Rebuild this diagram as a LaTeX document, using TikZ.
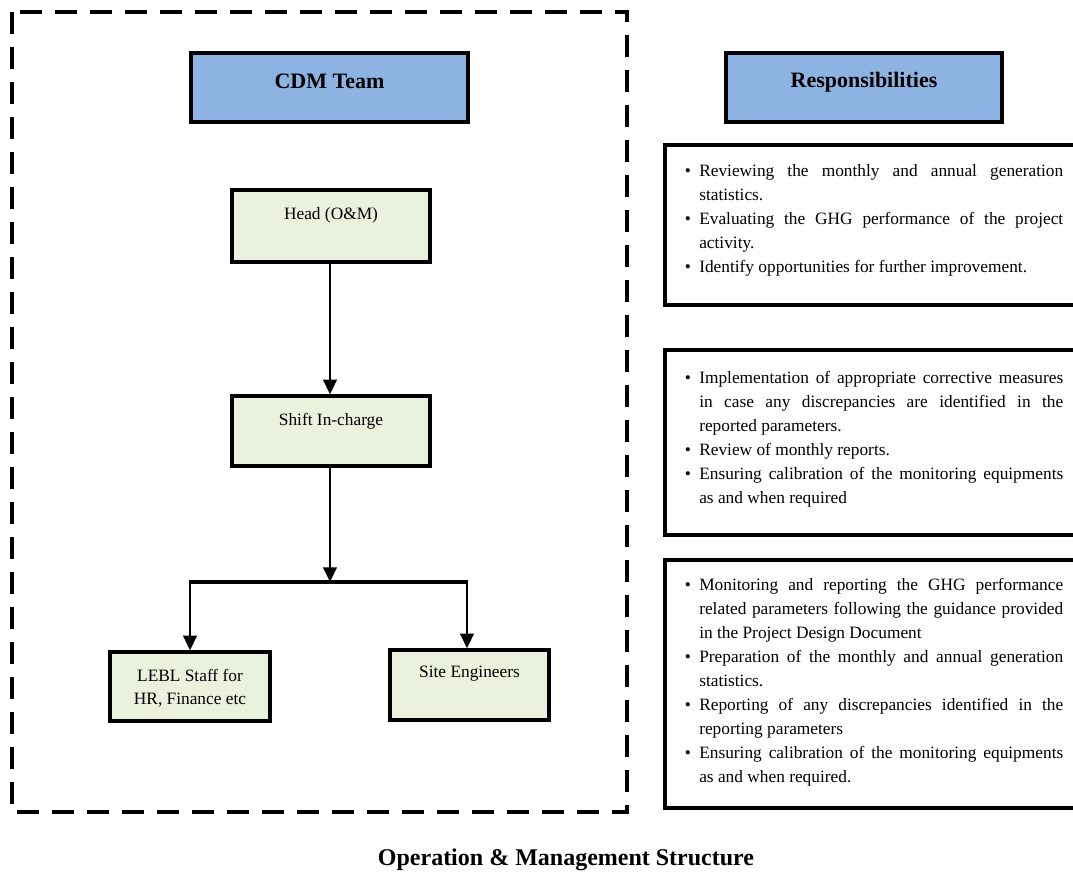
\documentclass[tikz,border=0pt]{standalone}
\usepackage{fontspec}
\setmainfont{Liberation Serif}
\usetikzlibrary{arrows.meta}
\definecolor{hdrblue}{HTML}{8DB3E2}
\definecolor{boxgreen}{HTML}{EAF1DD}
\newcommand{\bul}[1]{\par\hangindent=11.25pt\hangafter=1\noindent\makebox[11.25pt][l]{\hspace{0.5pt}{\fontsize{13}{13}\selectfont\textbullet}}#1\par}
\begin{document}
\begin{tikzpicture}[x=0.75pt,y=-0.75pt,
  hdr/.style={draw=black,line width=3pt,fill=hdrblue,minimum width=207.5pt,minimum height=51.75pt,inner sep=0pt},
  hdrtxt/.style={font=\fontsize{16.5}{18}\selectfont\bfseries,inner sep=0pt},
  gbox/.style={draw=black,line width=2.5pt,fill=boxgreen,inner sep=0pt},
  gtxt/.style={font=\fontsize{13}{17.5}\selectfont,inner sep=0pt,align=center},
  rbox/.style={draw=black,line width=2.4pt},
  rtxt/.style={anchor=north west,inner sep=0pt,text width=284.25pt,align=justify,font=\fontsize{13}{18}\selectfont},
  conn/.style={line width=2.1pt},
  arr/.style={conn,-{Triangle[length=11pt,width=10pt]}},
  frame/.style={line width=3pt,dash pattern=on 16.5pt off 9.75pt}]
\useasboundingbox (0,0) rectangle (1073,875);
% dashed frame
\draw[frame] (12,12) rectangle (627,812);
% headers
\node[hdr] (cdm) at (329.5,87.5) {};
\node[hdrtxt] (cdmt) at (329.5,81) {CDM Team};
\node[hdr] (resp) at (864,87.5) {};
\node[hdrtxt] (respt) at (864,82) {Responsibilities};
% green boxes
\node[gbox,minimum width=148.5pt,minimum height=54pt] (head) at (331,226) {};
\node[gtxt] (headt) at (331,215) {Head (O\&M)};
\node[gbox,minimum width=148.5pt,minimum height=52.5pt] (shift) at (331,431) {};
\node[gtxt] (shiftt) at (331,421) {Shift In-charge};
\node[gbox,minimum width=120pt,minimum height=51.75pt] (lebl) at (190,686.5) {};
\node[gtxt] (leblt) at (190,688) {LEBL Staff for\\HR, Finance etc};
\node[gbox,minimum width=119.25pt,minimum height=52.5pt] (site) at (469.5,685) {};
\node[gtxt] (sitet) at (469.5,674) {Site Engineers};
% connectors
\coordinate (jc) at (330,582);
\coordinate (jl) at (190,582);
\coordinate (jr) at (467,582);
\draw[arr] (head.south -| 330,0) -- (shift.north -| 330,0);
\draw[arr] (shift.south -| 330,0) -- (jc);
\draw[line width=2.8pt] ([xshift=-1pt]jl) -- ([xshift=1pt]jr);
\draw[arr] (jl) -- (lebl.north);
\draw[arr] (jr) -- (jr |- site.north);
% responsibility boxes
\draw[rbox] (665,145) rectangle (1085,305);
\node[rtxt] (r1) at (684,152) {%
\bul{Reviewing the monthly and annual generation\linebreak statistics.}
\bul{Evaluating the GHG performance of the project\linebreak activity.}
\bul{Identify opportunities for further improvement.}};
\draw[rbox] (665,350) rectangle (1085,535);
\node[rtxt] (r2) at (684,359) {%
\bul{Implementation of appropriate corrective measures\linebreak in case any discrepancies are identified in the\linebreak reported parameters.}
\bul{Review of monthly reports.}
\bul{Ensuring calibration of the monitoring equipments\linebreak as and when required}};
\draw[rbox] (665,560) rectangle (1085,808);
\node[rtxt] (r3) at (684,566) {%
\bul{Monitoring and reporting the GHG performance\linebreak related parameters following the guidance provided\linebreak in the Project Design Document}
\bul{Preparation of the monthly and annual generation\linebreak statistics.}
\bul{Reporting of any discrepancies identified in the\linebreak reporting parameters}
\bul{Ensuring calibration of the monitoring equipments\linebreak as and when required.}};
% title
\node[font=\fontsize{18}{20}\selectfont\bfseries,inner sep=0pt] (title) at (566,860) {Operation \& Management Structure};
\end{tikzpicture}
\end{document}
